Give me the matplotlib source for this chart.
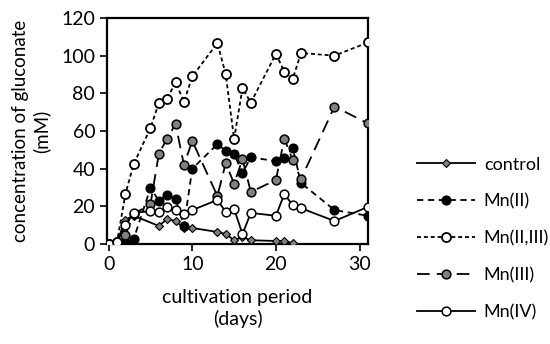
import matplotlib.pyplot as plt

plt.rcParams['font.family'] = ['Lato', 'DejaVu Sans']

# datos (dias, mM)
dias_control = [0, 1, 2, 3, 6, 7, 8, 9, 10, 13, 14, 15, 16, 17, 20, 21, 22]
control = [0, 1, 13, 15, 9.6, 13.3, 12.2, 8.5, 8.5, 6.4, 5.3, 2, 3.7, 2, 1.6, 1.6, 0.5]

dias_mn2 = [0, 1, 2, 3, 5, 6, 7, 8, 9, 10, 13, 14, 15, 16, 17, 20, 21, 22, 23, 27, 31]
mn2 = [0, 0.5, 1, 2.7, 29.8, 23, 26, 24, 9.6, 40, 53, 49.5, 47.8, 37.7, 46, 44, 45.6, 51, 32.4, 18, 15]

dias_mn23 = [0, 1, 2, 3, 5, 6, 7, 8, 9, 10, 13, 14, 15, 16, 17, 20, 21, 22, 23, 27, 31]
mn23 = [0, 1, 26.5, 42.5, 61.6, 74.9, 77, 86, 75.4, 89, 106.7, 90, 55.7, 82.8, 75, 101, 91.5, 87.6, 101.4, 100, 107]

dias_mn3 = [0, 1, 2, 3, 5, 6, 7, 8, 9, 10, 13, 14, 15, 16, 17, 20, 21, 22, 23, 27, 31]
mn3 = [0, 1, 5, 16, 21, 48, 56, 63.7, 42, 54.7, 25.5, 43, 32, 45, 27.6, 34, 56, 44.6, 34.5, 73, 64]

dias_mn4 = [0, 1, 2, 3, 5, 6, 7, 8, 9, 10, 13, 14, 15, 16, 17, 20, 21, 22, 23, 27, 31]
mn4 = [0, 1, 10, 16.5, 17.5, 17, 19.7, 18, 15.9, 18, 23.4, 17, 18.6, 5.3, 16.5, 15, 26.5, 20.7, 19, 12.2, 19.7]

fig = plt.figure(figsize=(5.5, 3.44), dpi=100)
ax = fig.add_axes([0.1945, 0.2907, 0.4745, 0.657])

lw = 1.3
ax.plot(dias_control, control, color='black', lw=lw, marker='D', ms=4,
        mfc='#808080', mec='black', mew=0.8, label='control', zorder=3)
ax.plot(dias_mn2, mn2, color='black', lw=lw, ls=(0, (3.5, 2.5)), marker='o', ms=6.3,
        mfc='black', mec='black', label='Mn(II)', zorder=4)
ax.plot(dias_mn23, mn23, color='black', lw=lw, ls=(0, (2.2, 1.6)), marker='o', ms=6.5,
        mfc='white', mec='black', mew=1.3, label='Mn(II,III)', zorder=5)
ax.plot(dias_mn3, mn3, color='black', lw=lw, ls=(0, (7, 4)), marker='o', ms=6.3,
        mfc='#808080', mec='black', mew=1.1, label='Mn(III)', zorder=4)
ax.plot(dias_mn4, mn4, color='black', lw=lw, marker='o', ms=6.3,
        mfc='white', mec='black', mew=1.1, label='Mn(IV)', zorder=4)

ax.set_xlim(-0.2, 31)
ax.set_ylim(0, 120)
ax.set_xticks([0, 10, 20, 30])
ax.set_yticks(range(0, 121, 20))
ax.tick_params(direction='out', length=5, width=1.2, labelsize=14)
for s in ax.spines.values():
    s.set_linewidth(1.6)

ax.set_xlabel('cultivation period\n(days)', fontsize=14, labelpad=12)
ax.set_ylabel('concentration of gluconate\n(mM)', fontsize=13.5, labelpad=8)

ax.legend(loc='upper left', bbox_to_anchor=(0.745, 0.566), bbox_transform=fig.transFigure,
          frameon=False, fontsize=13, handlelength=3.2, numpoints=1,
          labelspacing=1.15, handletextpad=0.5, borderaxespad=0)

fig.savefig('out.png', dpi=100)
